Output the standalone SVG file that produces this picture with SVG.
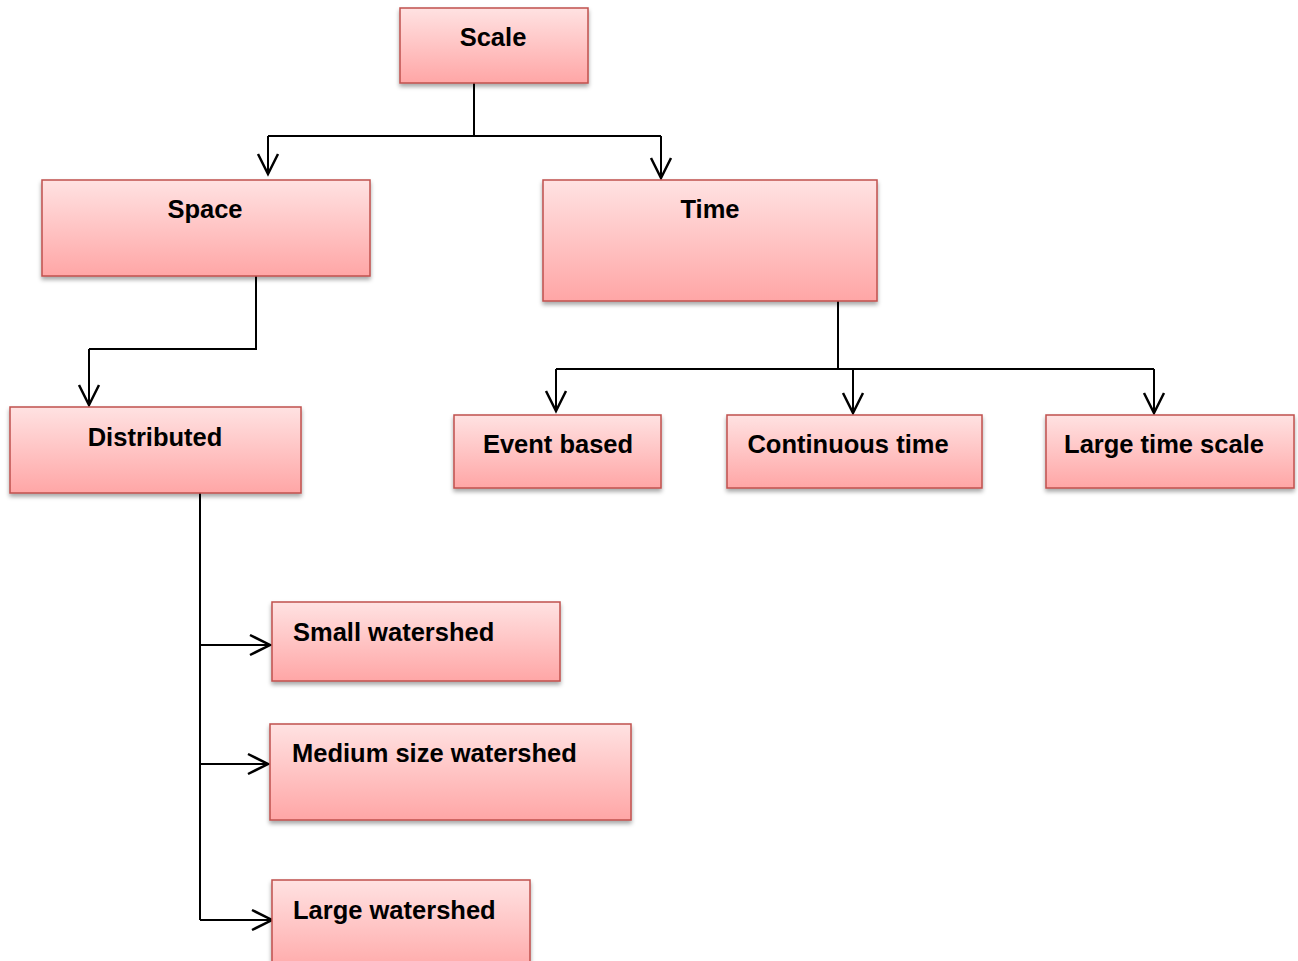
<svg xmlns="http://www.w3.org/2000/svg" width="1298" height="961" viewBox="0 0 1298 961">
<style>
.box{fill:url(#g);stroke:#C0504D;stroke-width:1.5;filter:url(#sh)}
.t{font-family:"Liberation Sans",Arial,sans-serif;font-weight:bold;font-size:25.5px;fill:#000}
.c{text-anchor:middle}
.ln{fill:none;stroke:#000;stroke-width:2}
.ar{marker-end:url(#ah)}
</style>
<defs>
<linearGradient id="g" x1="0" y1="0" x2="0" y2="1">
<stop offset="0" stop-color="#FFE2E2"/>
<stop offset="1" stop-color="#FFA6A6"/>
</linearGradient>
<filter id="sh" x="-10%" y="-10%" width="120%" height="130%">
<feDropShadow dx="0" dy="3" stdDeviation="2" flood-color="#000" flood-opacity="0.35"/>
</filter>
<marker id="ah" markerUnits="userSpaceOnUse" markerWidth="26" markerHeight="26" viewBox="-23 -13 26 26" refX="0" refY="0" orient="auto">
<path d="M-20,-10 L0,0 L-20,10" fill="none" stroke="#000" stroke-width="2.5"/>
</marker>
</defs>
<g id="connectors">
<path class="ln" d="M474,83 V136 M268,136 H661"/>
<path class="ln ar" d="M268,136 V174"/>
<path class="ln ar" d="M661,136 V178"/>
<path class="ln" d="M256,276 V349 H89"/>
<path class="ln ar" d="M89,349 V405"/>
<path class="ln" d="M838,301 V369 M556,369 H1154"/>
<path class="ln ar" d="M556,369 V411"/>
<path class="ln ar" d="M853,369 V413"/>
<path class="ln ar" d="M1154,369 V413"/>
<path class="ln" d="M200,493 V920"/>
<path class="ln ar" d="M200,645 H270"/>
<path class="ln ar" d="M200,764 H268"/>
<path class="ln ar" d="M200,920 H272"/>
</g>
<g id="scale"><rect class="box" x="400" y="8" width="188" height="75"/><text class="t c" x="493" y="46">Scale</text></g>
<g id="space"><rect class="box" x="42" y="180" width="328" height="96"/><text class="t c" x="205" y="218">Space</text></g>
<g id="time"><rect class="box" x="543" y="180" width="334" height="121"/><text class="t c" x="710" y="218">Time</text></g>
<g id="distributed"><rect class="box" x="10" y="407" width="291" height="86"/><text class="t c" x="155" y="446">Distributed</text></g>
<g id="event"><rect class="box" x="454" y="415" width="207" height="73"/><text class="t c" x="558" y="453">Event based</text></g>
<g id="continuous"><rect class="box" x="727" y="415" width="255" height="73"/><text class="t c" x="848" y="453">Continuous time</text></g>
<g id="largetime"><rect class="box" x="1046" y="415" width="248" height="73"/><text class="t c" x="1164" y="453">Large time scale</text></g>
<g id="small"><rect class="box" x="272" y="602" width="288" height="79"/><text class="t" x="293" y="641">Small watershed</text></g>
<g id="medium"><rect class="box" x="270" y="724" width="361" height="96"/><text class="t" x="292" y="762">Medium size watershed</text></g>
<g id="large"><rect class="box" x="272" y="880" width="258" height="95"/><text class="t" x="293" y="919">Large watershed</text></g>
</svg>
